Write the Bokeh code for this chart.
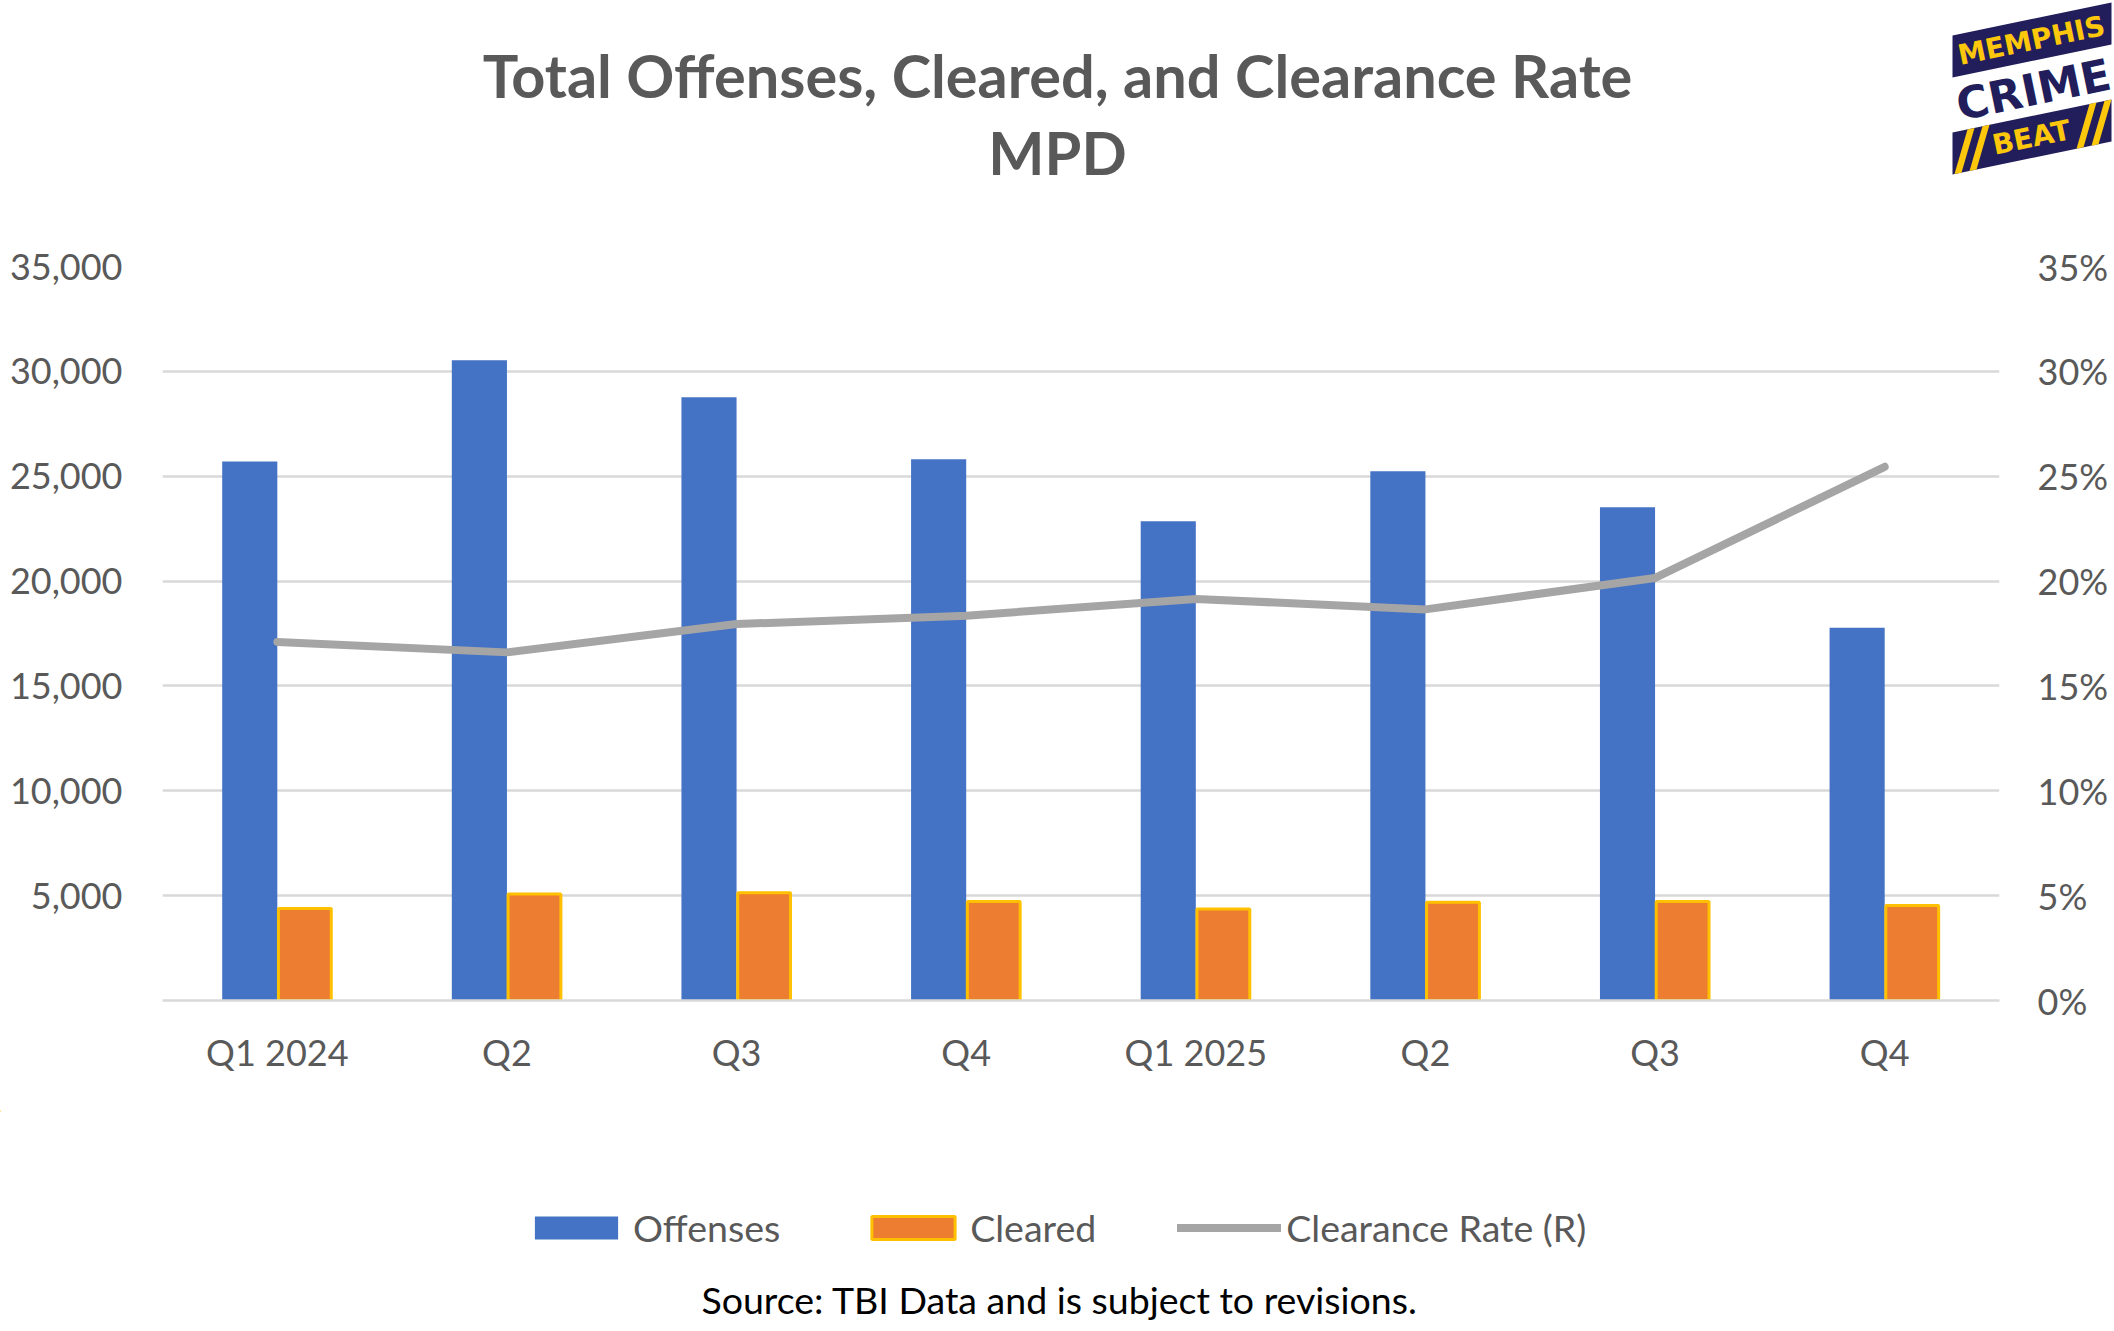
import math
from bokeh.plotting import figure
from bokeh.models import (Range1d, LinearAxis, FixedTicker, NumeralTickFormatter,
                          Legend, LegendItem, Label, ColumnDataSource)
from bokeh.embed import file_html
from bokeh.resources import INLINE

# ---------------- data ----------------
quarters = ["Q1 2024", "Q2", "Q3", "Q4", "Q1 2025", "Q2", "Q3", "Q4"]
offenses = [25700, 30530, 28770, 25810, 22850, 25240, 23520, 17770]
cleared = [4390, 5080, 5140, 4720, 4360, 4680, 4720, 4530]
clearance_rate = [0.171, 0.166, 0.1795, 0.1835, 0.1915, 0.1865, 0.2015, 0.2545]
count_ticks = [0, 5000, 10000, 15000, 20000, 25000, 30000, 35000]
rate_ticks = [0.0, 0.05, 0.10, 0.15, 0.20, 0.25, 0.30, 0.35]
series_names = ["Offenses", "Cleared", "Clearance Rate (R)"]

title_line1 = "Total Offenses, Cleared, and Clearance Rate"
title_line2 = "MPD"
source_note = "Source:  TBI Data and is subject to revisions."
logo_words = ["MEMPHIS", "CRIME", "BEAT"]

# ---------------- styles ----------------
W = 2114
FONT = "Lato"
GREY_TXT = "#595959"
BLUE = "#4472C4"
ORANGE = "#ED7D31"
GOLD = "#FFC000"
LINE_GREY = "#A5A5A5"
GRID = "#D9D9D9"
NAVY = "#221E5B"
YELLOW = "#FDC70C"
LINE_W = 8

# ---------------- header (title + logo) ----------------
HH = 236
hdr = figure(width=W, height=HH, x_range=Range1d(0, W), y_range=Range1d(HH, 0),
             output_backend="svg", toolbar_location=None, min_border=0,
             x_axis_location=None, y_axis_location=None)
hdr.grid.visible = False
hdr.outline_line_color = None

cx = 1057
for txt, ty in ((title_line1, 74), (title_line2, 151)):
    hdr.add_layout(Label(x=cx, y=ty, text=txt, text_align="center", text_baseline="middle",
                         text_font=FONT, text_font_style="bold", text_font_size="59.5px",
                         text_color=GREY_TXT))

# logo: two skewed navy bands, yellow stripes and words
slope = 0.2075
ang = math.atan(slope)
lx0, lx1 = 1952, 2111
band_h = 42


def band(top_left_y):
    return ([lx0, lx1, lx1, lx0],
            [top_left_y, top_left_y - slope * (lx1 - lx0),
             top_left_y - slope * (lx1 - lx0) + band_h, top_left_y + band_h])


b1 = band(35)
b2 = band(132)
hdr.patches(xs=[b1[0], b2[0]], ys=[b1[1], b2[1]], fill_color=NAVY, line_color=None)


def band2_top(x):
    return 132 - slope * (x - lx0)


stripe_xs, stripe_ys = [], []
for x0 in (1954, 1969, 2076, 2091):
    sw, dx = 7, 13
    stripe_xs.append([x0, x0 + sw, x0 + sw + dx, x0 + dx])
    stripe_ys.append([band2_top(x0) + band_h, band2_top(x0 + sw) + band_h,
                      band2_top(x0 + sw + dx), band2_top(x0 + dx)])
hdr.patches(xs=stripe_xs, ys=stripe_ys, fill_color=YELLOW, line_color=None)

for txt, x, y, size, col in ((logo_words[0], 2031, 40, "28px", YELLOW),
                             (logo_words[1], 2033, 89, "44px", NAVY),
                             (logo_words[2], 2031, 137, "28px", YELLOW)):
    hdr.add_layout(Label(x=x, y=y, text=txt, angle=ang, text_align="center",
                         text_baseline="middle", text_font="DejaVu Sans",
                         text_font_style="bold", text_font_size=size, text_color=col))

# ---------------- main chart ----------------
n = len(quarters)
centers = [i + 0.5 for i in range(n)]
bw = 0.24
src = ColumnDataSource(dict(
    x_off=[c - bw / 2 for c in centers],
    x_clr=[c + bw / 2 for c in centers],
    x=centers,
    offenses=offenses,
    cleared=cleared,
    rate=clearance_rate,
))

MAIN_H = 874
p = figure(width=W, height=MAIN_H, x_range=Range1d(0, n), y_range=Range1d(0, 35000),
           output_backend="svg", toolbar_location=None,
           min_border_left=162, min_border_right=115, min_border_top=30, min_border_bottom=110,
           y_axis_location=None, x_axis_location=None)
p.outline_line_color = None
p.extra_y_ranges = {"rate": Range1d(0, 0.35)}

p.xgrid.visible = False
p.ygrid.ticker = FixedTicker(ticks=count_ticks)
p.ygrid.grid_line_color = GRID
p.ygrid.grid_line_width = 2.5

p.vbar(x="x_off", top="offenses", width=bw, source=src, fill_color=BLUE, line_color=None)
p.vbar(x="x_clr", top="cleared", width=bw - 0.01, source=src, fill_color=ORANGE,
       line_color=GOLD, line_width=3)
p.line(x="x", y="rate", source=src, y_range_name="rate", line_color=LINE_GREY,
       line_width=LINE_W, line_cap="round", line_join="round")

# axes
yl = LinearAxis(ticker=FixedTicker(ticks=count_ticks), formatter=NumeralTickFormatter(format="0,0"))
yl.major_label_overrides = {0: ""}
yr = LinearAxis(y_range_name="rate", ticker=FixedTicker(ticks=rate_ticks),
                formatter=NumeralTickFormatter(format="0%"))
xb = LinearAxis(ticker=FixedTicker(ticks=centers))
xb.major_label_overrides = {c: q for c, q in zip(centers, quarters)}

for ax in (yl, yr, xb):
    ax.major_tick_line_color = None
    ax.minor_tick_line_color = None
    ax.major_tick_out = 0
    ax.major_tick_in = 0
    ax.minor_tick_out = 0
    ax.minor_tick_in = 0
    ax.major_label_text_font = FONT
    ax.major_label_text_font_size = "36px"
    ax.major_label_text_color = GREY_TXT
yl.axis_line_color = None
yr.axis_line_color = None
yl.major_label_standoff = 40
yr.major_label_standoff = 38
xb.axis_line_color = GRID
xb.axis_line_width = 2.5
xb.major_label_standoff = 29

p.add_layout(yl, "left")
p.add_layout(yr, "right")
p.add_layout(xb, "below")

# ---------------- footer (legend + source) ----------------
FH = 216
ftr = figure(width=W, height=FH, x_range=Range1d(0, W), y_range=Range1d(FH, 0),
             output_backend="svg", toolbar_location=None, min_border=0,
             x_axis_location=None, y_axis_location=None)
ftr.grid.visible = False
ftr.outline_line_color = None

# legend key renderers: one off-canvas sample each, so only their legend swatches show
key = ColumnDataSource(dict(x=[-500, -400], y=[-500, -500]))
k_off = ftr.vbar(x="x", top="y", width=1, source=key, fill_color=BLUE, line_color=None)
k_clr = ftr.vbar(x="x", top="y", width=1, source=key, fill_color=ORANGE,
                 line_color=GOLD, line_width=3)
k_rate = ftr.line(x="x", y="y", source=key, line_color=LINE_GREY, line_width=LINE_W,
                  line_cap="round")

legend = Legend(items=[LegendItem(label=series_names[0], renderers=[k_off]),
                       LegendItem(label=series_names[1], renderers=[k_clr]),
                       LegendItem(label=series_names[2], renderers=[k_rate])],
                orientation="horizontal", location=(524, 76),
                glyph_width=104, glyph_height=29, label_standoff=5, spacing=81,
                padding=0, margin=0, border_line_color=None, background_fill_alpha=0,
                label_text_font=FONT, label_text_font_size="37.5px", label_text_color=GREY_TXT)
ftr.add_layout(legend, "center")

ftr.add_layout(Label(x=1064, y=189, text=source_note, text_align="center",
                     text_baseline="middle", text_font=FONT, text_font_size="37.5px",
                     text_color="#000000"))

open("out.html", "w").write(file_html([hdr, p, ftr], INLINE))
